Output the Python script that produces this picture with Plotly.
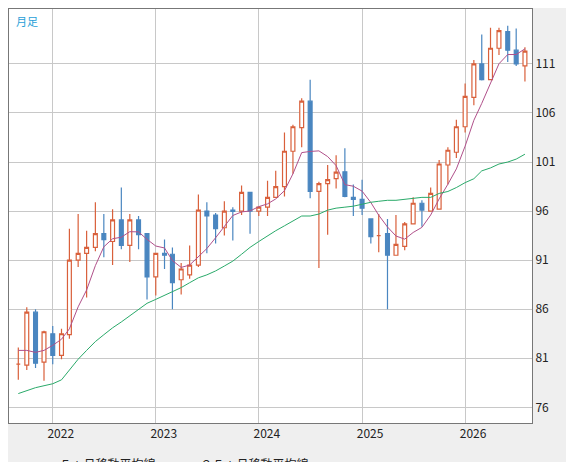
import plotly.graph_objects as go
import pandas as pd

months = pd.date_range("2021-09-01", periods=60, freq="MS")
opens = [80.4,80.3,85.7,80.6,83.5,81.3,83.4,91.0,91.7,92.3,93.7,92.9,95.1,92.5,95.1,93.7,89.3,91.7,91.6,89.0,89.5,90.5,96.0,95.6,94.3,96.1,96.0,97.9,96.0,96.4,97.4,98.5,
         102.1,104.5,107.2,98.0,98.8,99.3,100.0,97.4,97.2,95.2,93.5,93.7,91.5,92.4,94.7,96.8,96.0,96.2,100.7,102.0,104.6,107.6,111.0,109.4,112.6,114.3,112.4,110.8]
closes = [80.4,85.7,80.5,83.7,81.3,83.5,91.0,91.7,92.3,93.7,93.1,95.1,92.5,95.1,93.6,89.3,91.7,91.5,88.7,90.1,90.5,96.1,95.5,94.2,96.0,95.97,97.9,96.0,96.4,97.4,98.5,102.1,
          104.6,107.2,98.0,98.8,99.2,99.98,97.5,97.2,96.3,93.4,93.5,91.5,92.6,94.7,96.8,96.1,97.8,100.8,102.2,104.6,107.7,111.0,109.4,112.6,114.4,112.4,111.0,112.3]
highs = [82.1,86.2,86.0,83.8,84.3,84.0,94.2,95.7,94.0,96.9,95.7,96.2,98.4,95.7,95.5,93.7,91.7,93.1,92.3,90.7,92.5,97.7,96.9,95.8,97.0,96.4,98.6,97.9,96.4,99.1,100.1,104.0,
         104.8,107.5,109.4,99.0,100.7,101.7,102.4,98.7,99.2,95.2,95.7,95.2,95.6,94.9,97.4,97.1,98.4,101.2,102.5,105.3,109.0,111.4,114.0,114.7,114.7,114.9,114.6,112.7]
lows = [78.8,79.8,80.0,78.7,80.4,80.9,83.0,90.3,87.2,91.9,91.3,90.5,92.1,90.8,92.1,87.0,87.4,90.1,86.0,87.5,89.1,90.3,91.7,92.7,93.5,93.0,95.6,93.7,95.5,95.5,97.4,97.5,
        99.8,102.5,97.3,90.2,93.6,98.3,97.4,95.5,95.6,92.7,91.8,86.0,91.5,92.0,94.7,94.4,96.0,96.2,98.7,101.4,104.0,106.8,109.3,109.4,111.9,111.2,110.8,109.2]
ma5_head = [81.8,81.8,81.6,81.8]
ma25 = [77.4,77.7,78.0,78.2,78.4,78.8,79.8,80.9,81.8,82.7,83.4,84.1,84.7,85.3,86.0,86.6,87.0,87.4,87.8,88.2,88.7,89.2,89.5,89.9,90.4,90.9,91.6,92.3,92.9,93.5,94.0,94.5,
        95.0,95.5,95.5,95.7,96.1,96.3,96.4,96.5,96.7,96.9,97.0,97.1,97.1,97.2,97.3,97.4,97.4,97.8,98.0,98.4,98.9,99.3,100.1,100.4,100.8,101.0,101.3,101.8]
ytick_vals = [76, 81, 86, 91, 96, 101, 106, 111]
xtick_vals = ["2022-01-01", "2023-01-01", "2024-01-01", "2025-01-01", "2026-01-01"]
xtick_text = ["2022", "2023", "2024", "2025", "2026"]

ma5 = ma5_head + list(pd.Series(closes).rolling(5).mean().dropna())

RED = "#d9603b"
BLUE = "#4a86c0"
fig = go.Figure()
fig.add_trace(go.Candlestick(
    x=months, open=opens, high=highs, low=lows, close=closes, showlegend=False,
    increasing=dict(line=dict(color=RED, width=1.2), fillcolor="white"),
    decreasing=dict(line=dict(color=BLUE, width=1.2), fillcolor=BLUE),
    whiskerwidth=0, hoverinfo="skip"))
fig.add_trace(go.Scatter(x=months, y=ma5, mode="lines", name="５ヵ月移動平均線",
                         line=dict(color="#b0508a", width=1)))
fig.add_trace(go.Scatter(x=months, y=ma25, mode="lines", name="２５ヵ月移動平均線",
                         line=dict(color="#2aaa6a", width=1)))
fig.add_annotation(text="月足", xref="paper", yref="paper", x=0.01, y=0.995,
                   xanchor="left", yanchor="top", showarrow=False,
                   font=dict(color="#2a9fd8", size=11))
fig.update_layout(
    width=574, height=462, paper_bgcolor="#efefef", plot_bgcolor="white",
    margin=dict(l=1, r=50, t=1, b=47, autoexpand=False),
    font=dict(family="Noto Sans CJK JP", size=12, color="#222"),
    legend=dict(orientation="h", x=0.02, y=-0.1, xanchor="left", yanchor="middle",
                font=dict(size=12), bgcolor="rgba(0,0,0,0)"),
    xaxis=dict(range=["2021-07-30", "2026-08-26"], tickvals=xtick_vals, ticktext=xtick_text,
               ticklabelshift=8, gridcolor="#c8c8c8", showline=True, linecolor="#777",
               mirror=True, rangeslider=dict(visible=False), ticks="", fixedrange=True,
               automargin=False),
    yaxis=dict(range=[74.4, 116.6], tickvals=ytick_vals, side="right", gridcolor="#c8c8c8",
               showline=True, linecolor="#777", mirror=True, ticks="", fixedrange=True,
               automargin=False),
)
fig.write_html("out.html")
